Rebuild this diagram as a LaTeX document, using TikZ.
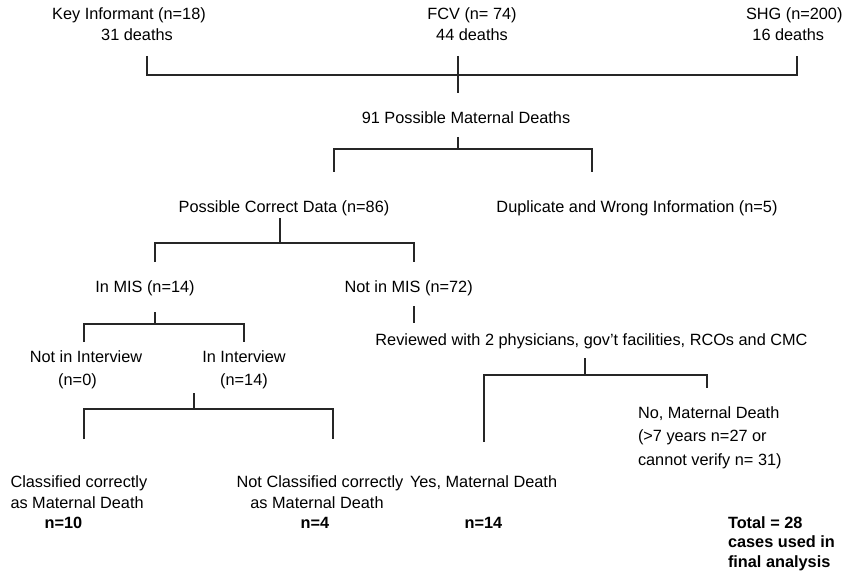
\documentclass[tikz,border=0pt]{standalone}
\usepackage{fontspec}
\setmainfont{Liberation Sans}
\newcommand{\fls}{\rule{0pt}{12pt}}
\tikzset{
  conn/.style={line width=1.2pt, draw=black!85},
  txt/.style={inner sep=0pt, outer sep=0pt, font=\fontsize{16.3}{23}\selectfont},
  btxt/.style={txt, font=\fontsize{16.3}{19.5}\selectfont\bfseries}
}
\begin{document}
\begin{tikzpicture}[x=1pt,y=-1pt]
\useasboundingbox (0,0) rectangle (843,572);
% nodes
\node[txt, anchor=north, align=center, font=\fontsize{16.3}{21}\selectfont] (ki) at (129,8) {\fls Key Informant (n=18)\\\hspace*{16pt}31 deaths};
\node[txt, anchor=north, align=center, font=\fontsize{16.3}{21}\selectfont] (fcv) at (472,8) {\fls FCV (n= 74)\\44 deaths};
\node[txt, anchor=north east, align=center, font=\fontsize{16.3}{21}\selectfont] (shg) at (842.5,8) {\fls SHG (n=200)\\16 deaths\hspace*{12pt}};
\node[txt, anchor=base] (pmd) at (466,124) {91 Possible Maternal Deaths};
\node[txt, anchor=base] (pcd) at (284,212) {Possible Correct Data (n=86)};
\node[txt, anchor=base] (dup) at (637,212) {Duplicate and Wrong Information (n=5)};
\node[txt, anchor=base] (inmis) at (145,292) {In MIS (n=14)};
\node[txt, anchor=base] (notmis) at (408.6,292) {Not in MIS (n=72)};
\node[txt, anchor=base] (rev) at (591.5,345) {Reviewed with 2 physicians, gov’t facilities, RCOs and CMC};
\node[txt, anchor=north, align=center] (notint) at (86,350) {\fls Not in Interview\\(n=0)\hspace*{17pt}};
\node[txt, anchor=north, align=center] (inint) at (244,350) {\fls In Interview\\(n=14)};
\node[txt, anchor=north west, align=left, font=\fontsize{16.3}{23.5}\selectfont] (nomd) at (638,406) {\fls No, Maternal Death\\(>7 years n=27 or\\cannot verify n= 31)};
\node[txt, anchor=north west, align=left, font=\fontsize{16.3}{21.5}\selectfont] (cls) at (10.5,475) {\fls Classified correctly\\as Maternal Death};
\node[txt, anchor=north, align=center, font=\fontsize{16.3}{21.5}\selectfont] (ncls) at (320,475) {\fls Not Classified correctly\\as Maternal Death\hspace*{6pt}};
\node[txt, anchor=base west] (yes) at (410,487) {Yes, Maternal Death};
\node[btxt, anchor=base] (n10) at (63.5,528) {n=10};
\node[btxt, anchor=base] (n4) at (315,528) {n=4};
\node[btxt, anchor=base] (n14) at (483.5,528) {n=14};
\node[btxt, anchor=north west, align=left] (tot) at (728,516) {\fls Total = 28\\cases used in\\final analysis};
% connector points
\coordinate (a1) at (147,56); \coordinate (a2) at (458,56); \coordinate (a3) at (797,56);
\coordinate (aj) at (458,75); \coordinate (ab) at (458,93);
\coordinate (b0) at (458,137); \coordinate (bj) at (458,149);
\coordinate (b1) at (334,172); \coordinate (b2) at (592,172);
\coordinate (c0) at (280,218); \coordinate (cj) at (280,243);
\coordinate (c1) at (155,262); \coordinate (c2) at (414,262);
\coordinate (d0) at (155,312); \coordinate (dj) at (155,324);
\coordinate (d1) at (84,342); \coordinate (d2) at (244,342);
\coordinate (e0) at (414,306); \coordinate (e1) at (414,323);
\coordinate (f0) at (194,393); \coordinate (fj) at (194,409);
\coordinate (f1) at (84,439); \coordinate (f2) at (333,439);
\coordinate (g0) at (585,358); \coordinate (gj) at (585,375);
\coordinate (g1) at (484,442); \coordinate (g2) at (707,388);
% connectors
\draw[conn] (a1) |- (aj) -| (a3);
\draw[conn] (a2) -- (ab);
\draw[conn] (b0) -- (bj);
\draw[conn] (b1) |- (bj) -| (b2);
\draw[conn] (c0) -- (cj);
\draw[conn] (c1) |- (cj) -| (c2);
\draw[conn] (d0) -- (dj);
\draw[conn] (d1) |- (dj) -| (d2);
\draw[conn] (e0) -- (e1);
\draw[conn] (f0) -- (fj);
\draw[conn] (f1) |- (fj) -| (f2);
\draw[conn] (g0) -- (gj);
\draw[conn] (g1) |- (gj) -| (g2);
\end{tikzpicture}
\end{document}
